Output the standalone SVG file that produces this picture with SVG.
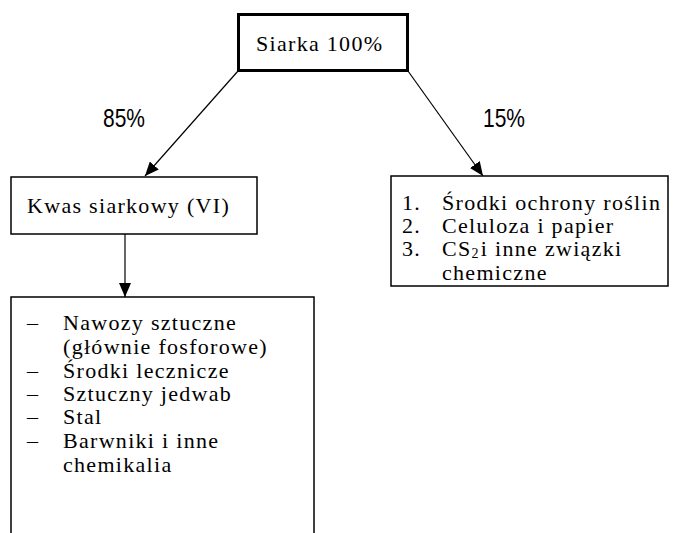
<svg xmlns="http://www.w3.org/2000/svg" width="681" height="533" viewBox="0 0 681 533">
  <style>
    .box { fill: #fff; stroke: #000; stroke-width: 1.5; }
    .box-main { fill: #fff; stroke: #000; stroke-width: 3; }
    .t { font-family: "Liberation Serif", "Times New Roman", serif; font-size: 22px; letter-spacing: 1.3px; fill: #000; }
    .pct { font-family: "Liberation Sans", Arial, sans-serif; font-size: 25px; fill: #000; }
    .conn { stroke: #000; stroke-width: 1.2; fill: none; marker-end: url(#arrow); }
  </style>
  <defs>
    <marker id="arrow" viewBox="0 0 14 12" refX="14" refY="6" markerWidth="14" markerHeight="12" markerUnits="userSpaceOnUse" orient="auto">
      <path d="M0,0 L14,6 L0,12 Z" fill="#000"/>
    </marker>
  </defs>

  <g id="connectors">
    <line class="conn" x1="238" y1="71" x2="145" y2="176"/>
    <line class="conn" x1="408" y1="71" x2="483" y2="176"/>
    <line class="conn" x1="125" y1="234" x2="125" y2="297"/>
    <text class="pct" x="103" y="127" textLength="42" lengthAdjust="spacingAndGlyphs">85%</text>
    <text class="pct" x="483" y="127" textLength="42" lengthAdjust="spacingAndGlyphs">15%</text>
  </g>

  <g id="siarka">
    <rect class="box-main" x="238.5" y="14.5" width="169" height="56"/>
    <text class="t" x="256" y="51">Siarka 100%</text>
  </g>

  <g id="kwas">
    <rect class="box" x="11" y="177" width="246" height="57"/>
    <text class="t" x="27" y="213">Kwas siarkowy (VI)</text>
  </g>

  <g id="inne-zastosowania">
    <rect class="box" x="391" y="176" width="277" height="110"/>
    <text class="t" x="402" y="210">1.</text>
    <text class="t" x="442" y="210">Środki ochrony roślin</text>
    <text class="t" x="402" y="233">2.</text>
    <text class="t" x="442" y="233">Celuloza i papier</text>
    <text class="t" x="402" y="256">3.</text>
    <text class="t" x="442" y="256">CS<tspan font-size="14" dy="2">2</tspan><tspan dy="-2" dx="1">i inne związki</tspan></text>
    <text class="t" x="442" y="280">chemiczne</text>
  </g>

  <g id="produkty">
    <rect class="box" x="11" y="297" width="303" height="250"/>
    <text class="t" x="27" y="330">–</text>
    <text class="t" x="63" y="330">Nawozy sztuczne</text>
    <text class="t" x="63" y="354">(głównie fosforowe)</text>
    <text class="t" x="27" y="378">–</text>
    <text class="t" x="63" y="378">Środki lecznicze</text>
    <text class="t" x="27" y="401">–</text>
    <text class="t" x="63" y="401">Sztuczny jedwab</text>
    <text class="t" x="27" y="424">–</text>
    <text class="t" x="63" y="424">Stal</text>
    <text class="t" x="27" y="448">–</text>
    <text class="t" x="63" y="448">Barwniki i inne</text>
    <text class="t" x="63" y="472">chemikalia</text>
  </g>
</svg>
